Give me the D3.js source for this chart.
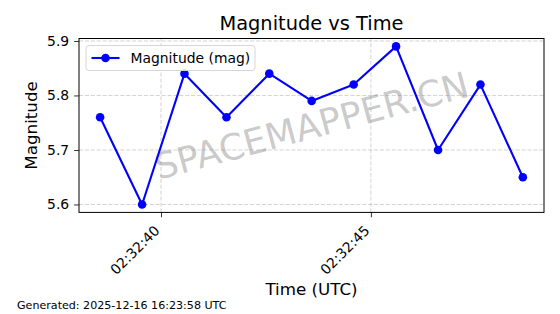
<!DOCTYPE html>
<html>
<head>
<meta charset="utf-8">
<script src="https://cdn.jsdelivr.net/npm/d3@7"></script>
<style>
  body { margin: 0; background: #fff; }
  svg { display: block; font-family: "DejaVu Sans", sans-serif; }
</style>
</head>
<body>
<svg id="chart" width="560" height="314"></svg>
<script>
// donnees
var heures = ["02:32:38.550","02:32:39.550","02:32:40.560","02:32:41.560","02:32:42.580","02:32:43.590",
              "02:32:44.590","02:32:45.600","02:32:46.600","02:32:47.610","02:32:48.620"];
var magnitudes = [5.76, 5.60, 5.84, 5.76, 5.84, 5.79, 5.82, 5.89, 5.70, 5.82, 5.65];
var yTicks = [5.6, 5.7, 5.8, 5.9];
var titre = "Magnitude vs Time";
var legende = "Magnitude (mag)";
var genere = "Generated: 2025-12-16 16:23:58 UTC";

var W = 560, H = 314;
var marge = {left: 79, right: 16, top: 38.5, bottom: 101.6};
var bleu = "#0000ff";

var parse = d3.utcParse("%H:%M:%S.%L");
var data = heures.map(function(h, i){ return {t: parse(h), v: magnitudes[i]}; });

var svg = d3.select("#chart");

// marges de 5% comme matplotlib
var tExt = d3.extent(data, function(d){ return +d.t; });
var tPad = (tExt[1] - tExt[0]) * 0.05;
var vExt = d3.extent(data, function(d){ return d.v; });
var vPad = (vExt[1] - vExt[0]) * 0.05;

var x = d3.scaleUtc()
  .domain([new Date(tExt[0] - tPad), new Date(tExt[1] + tPad)])
  .range([marge.left, W - marge.right]);
var y = d3.scaleLinear()
  .domain([vExt[0] - vPad, vExt[1] + vPad])
  .range([H - marge.bottom, marge.top]);

var x0 = marge.left, x1 = W - marge.right, y0 = H - marge.bottom, y1 = marge.top;
var xTicks = x.ticks(d3.utcSecond.every(5));

// grille
var grille = svg.append("g").attr("stroke", "#b0b0b0").attr("stroke-opacity", 0.7)
  .attr("stroke-width", 0.8).attr("stroke-dasharray", "4.1,1.8");
grille.selectAll(".gx").data(xTicks).enter().append("line")
  .attr("x1", function(d){ return x(d); }).attr("x2", function(d){ return x(d); })
  .attr("y1", y0).attr("y2", y1);
grille.selectAll(".gy").data(yTicks).enter().append("line")
  .attr("x1", x0).attr("x2", x1)
  .attr("y1", function(d){ return y(d); }).attr("y2", function(d){ return y(d); });

// filigrane
svg.append("text")
  .attr("transform", "translate(" + ((x0 + x1) / 2) + "," + ((y0 + y1) / 2) + ") rotate(-15)")
  .attr("text-anchor", "middle").attr("dy", "0.36em")
  .attr("font-size", 36).attr("fill", "#808080").attr("fill-opacity", 0.42)
  .text("SPACEMAPPER.CN");

// axes
var axeX = svg.append("g").attr("transform", "translate(0," + y0 + ")")
  .call(d3.axisBottom(x).tickValues(xTicks).tickFormat(d3.utcFormat("%H:%M:%S")).tickSizeOuter(0).tickSize(4.9));
axeX.select(".domain").remove();
axeX.selectAll("line").attr("stroke", "#000").attr("stroke-width", 0.8);
axeX.selectAll("text")
  .attr("font-size", 13.9).attr("fill", "#000").attr("font-family", "DejaVu Sans")
  .attr("text-anchor", "end").attr("dy", null).attr("y", null)
  .attr("transform", "translate(-1,19) rotate(-45)");

var axeY = svg.append("g").attr("transform", "translate(" + x0 + ",0)")
  .call(d3.axisLeft(y).tickValues(yTicks).tickFormat(d3.format(".1f")).tickSizeOuter(0).tickSize(4.9).tickPadding(4.9));
axeY.select(".domain").remove();
axeY.selectAll("line").attr("stroke", "#000").attr("stroke-width", 0.8);
axeY.selectAll("text").attr("font-size", 13.9).attr("fill", "#000").attr("font-family", "DejaVu Sans");

// cadre
svg.append("rect").attr("x", x0).attr("y", y1).attr("width", x1 - x0).attr("height", y0 - y1)
  .attr("fill", "none").attr("stroke", "#000").attr("stroke-width", 1);

// serie
var ligne = d3.line().x(function(d){ return x(d.t); }).y(function(d){ return y(d.v); });
svg.append("path").datum(data).attr("d", ligne)
  .attr("fill", "none").attr("stroke", bleu).attr("stroke-width", 2.1).attr("stroke-linejoin", "round");
svg.selectAll(".pt").data(data).enter().append("circle")
  .attr("cx", function(d){ return x(d.t); }).attr("cy", function(d){ return y(d.v); })
  .attr("r", 4.3).attr("fill", bleu);

// legende
var lg = svg.append("g").attr("transform", "translate(" + (x0 + 7) + "," + (y1 + 7) + ")");
lg.append("rect").attr("width", 169).attr("height", 25).attr("rx", 3)
  .attr("fill", "#fff").attr("fill-opacity", 0.8).attr("stroke", "#d6d6d6").attr("stroke-width", 1);
lg.append("line").attr("x1", 5.5).attr("x2", 33.5).attr("y1", 12.5).attr("y2", 12.5)
  .attr("stroke", bleu).attr("stroke-width", 2.1);
lg.append("circle").attr("cx", 19.5).attr("cy", 12.5).attr("r", 4.3).attr("fill", bleu);
lg.append("text").attr("x", 44.5).attr("y", 17.3).attr("font-size", 13.9).text(legende);

// titres
svg.append("text").attr("x", (x0 + x1) / 2).attr("y", 29.5).attr("text-anchor", "middle")
  .attr("font-size", 19.4).text(titre);
svg.append("text").attr("x", (x0 + x1) / 2).attr("y", 294.5).attr("text-anchor", "middle")
  .attr("font-size", 16.7).text("Time (UTC)");
svg.append("text").attr("transform", "translate(37," + ((y0 + y1) / 2) + ") rotate(-90)")
  .attr("text-anchor", "middle").attr("font-size", 16.7).text("Magnitude");
svg.append("text").attr("x", 17).attr("y", 308.5).attr("font-size", 11.1).text(genere);
</script>
</body>
</html>
